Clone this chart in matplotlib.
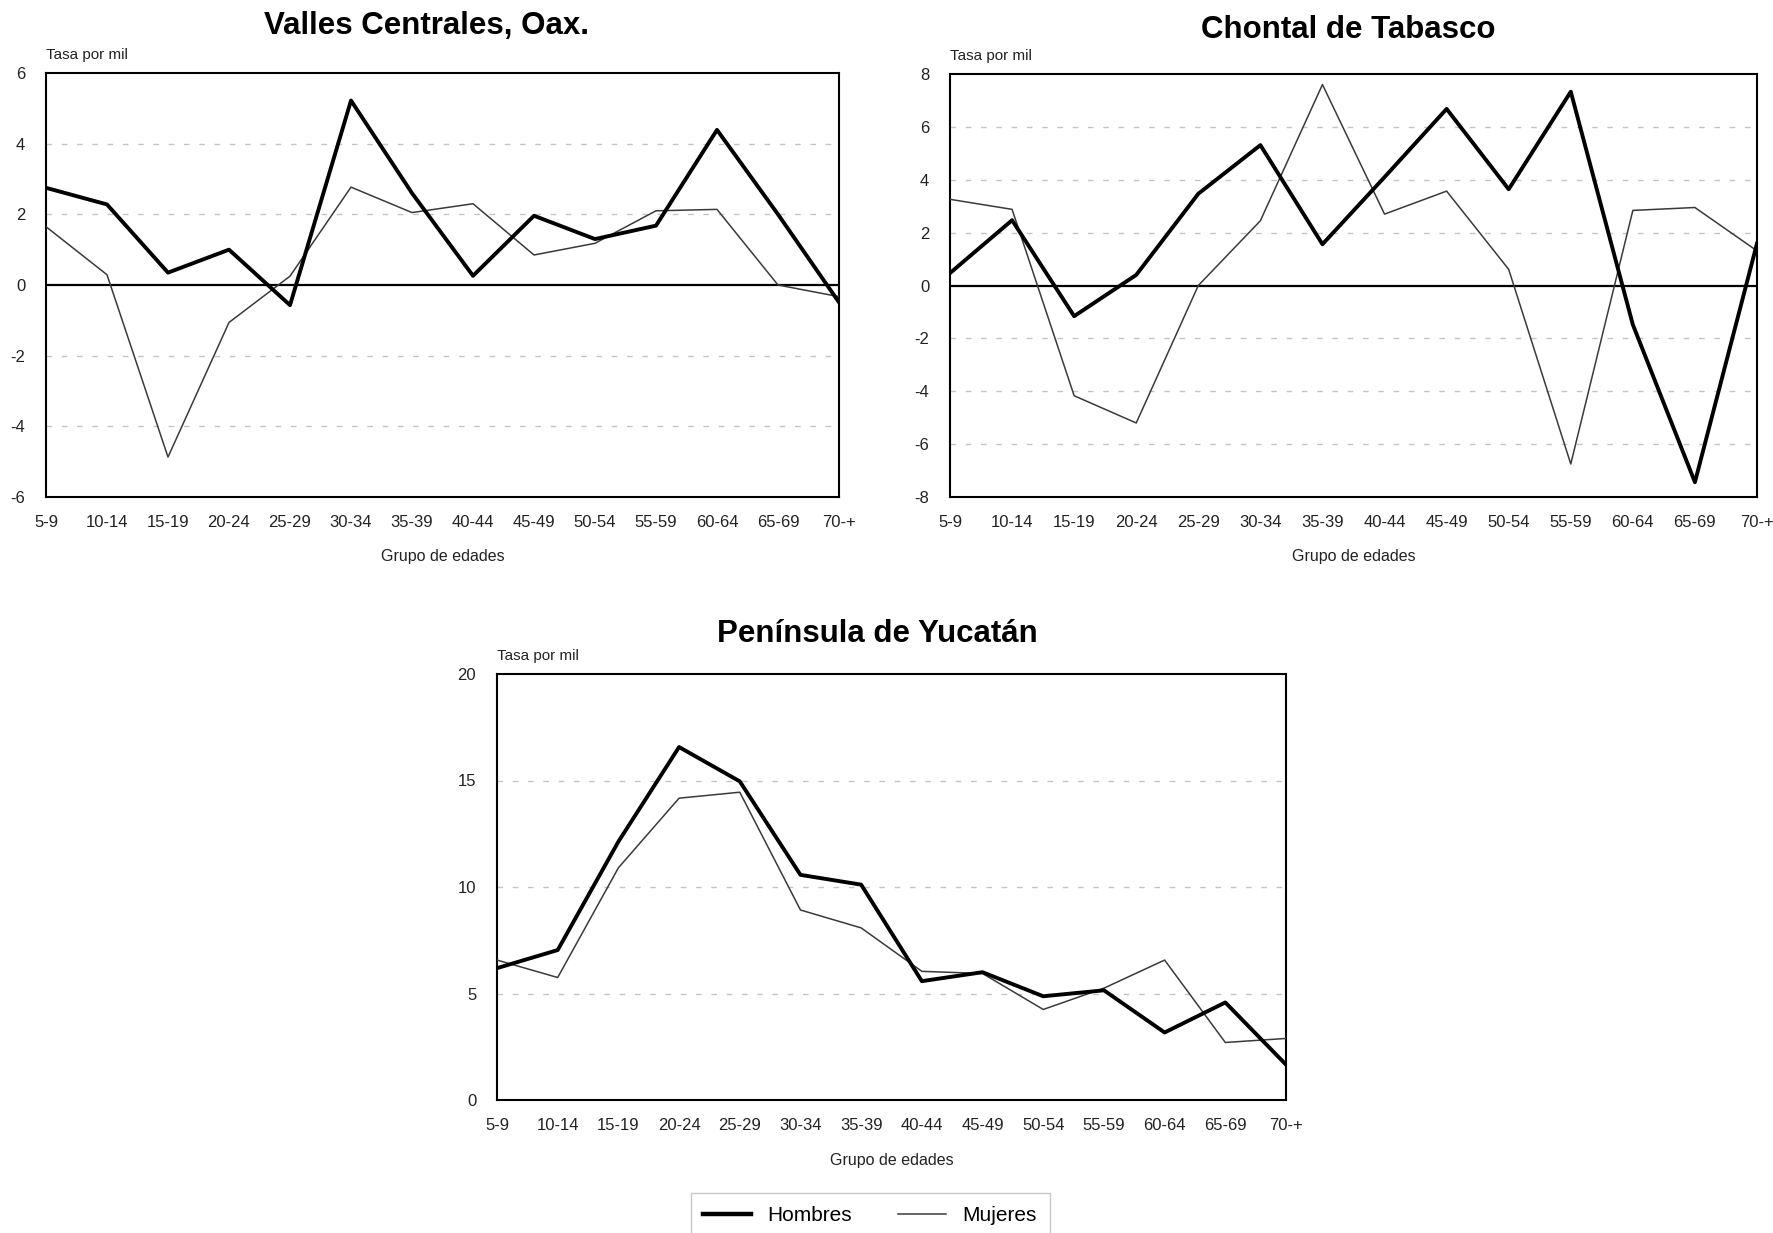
import matplotlib
matplotlib.use("Agg")
import matplotlib.pyplot as plt
from matplotlib.lines import Line2D

plt.rcParams['font.family'] = ['Liberation Sans', 'DejaVu Sans']

grupos = ["5-9", "10-14", "15-19", "20-24", "25-29", "30-34", "35-39",
          "40-44", "45-49", "50-54", "55-59", "60-64", "65-69", "70-+"]

valles_hombres = [2.75, 2.28, 0.35, 1.0, -0.57, 5.22, 2.6, 0.26, 1.96, 1.3, 1.68, 4.39, 2.0, -0.49]
valles_mujeres = [1.65, 0.29, -4.87, -1.06, 0.25, 2.77, 2.05, 2.3, 0.85, 1.18, 2.1, 2.14, 0.0, -0.33]

chontal_hombres = [0.47, 2.47, -1.16, 0.4, 3.47, 5.31, 1.56, 4.1, 6.68, 3.64, 7.33, -1.48, -7.44, 1.59]
chontal_mujeres = [3.26, 2.88, -4.17, -5.2, 0.0, 2.45, 7.6, 2.7, 3.57, 0.61, -6.75, 2.84, 2.95, 1.31]

yucatan_hombres = [6.19, 7.04, 12.13, 16.57, 14.96, 10.57, 10.11, 5.58, 6.0, 4.87, 5.15, 3.17, 4.58, 1.66]
yucatan_mujeres = [6.57, 5.75, 10.9, 14.17, 14.45, 8.92, 8.08, 6.04, 5.94, 4.25, 5.25, 6.57, 2.7, 2.89]

titulos = ["Valles Centrales, Oax.", "Chontal de Tabasco", "Península de Yucatán"]
y_ticks = [[-6, -4, -2, 0, 2, 4, 6],
           [-8, -6, -4, -2, 0, 2, 4, 6, 8],
           [0, 5, 10, 15, 20]]

W, H = 1773, 1233
fig = plt.figure(figsize=(W / 100, H / 100), dpi=100)

def rect(l, t, r, b):
    return [l / W, 1 - b / H, (r - l) / W, (b - t) / H]

axes_rects = [rect(46, 73, 839, 497), rect(950, 74, 1757, 497), rect(497, 674, 1286, 1100)]
title_pads = [28, 26, 23]
title_x = [0.48, 0.493, 0.482]
series = [(valles_hombres, valles_mujeres), (chontal_hombres, chontal_mujeres),
          (yucatan_hombres, yucatan_mujeres)]

tick_font = ['Liberation Sans Narrow', 'Liberation Sans', 'DejaVu Sans']

for i in range(3):
    ax = fig.add_axes(axes_rects[i])
    hom, muj = series[i]
    x = list(range(len(grupos)))
    ticks = y_ticks[i]
    for t in ticks[1:-1]:
        if t == 0:
            ax.axhline(0, color='black', lw=1.6, zorder=2)
        else:
            ax.axhline(t, color='#c4c4c4', lw=1.0, ls=(0, (4, 7)), zorder=1)
    ax.plot(x, muj, color='#3a3a3a', lw=1.1, zorder=3)
    ax.plot(x, hom, color='black', lw=2.8, zorder=4)
    ax.set_xlim(0, len(grupos) - 1)
    ax.set_ylim(ticks[0], ticks[-1])
    ax.set_yticks(ticks)
    ax.set_yticklabels([str(t) for t in ticks], family=tick_font, fontsize=12, color='#222222')
    ax.set_xticks(x)
    ax.set_xticklabels(grupos, family=tick_font, fontsize=12, color='#222222')
    ax.tick_params(length=0, pad=13)
    ax.tick_params(axis='y', pad=15)
    for s in ax.spines.values():
        s.set_linewidth(1.5)
        s.set_color('black')
    ax.set_xlabel("Grupo de edades", family=tick_font, fontsize=11.5, color='#222222', labelpad=14)
    ax.text(0.0, 1.025, "Tasa por mil", transform=ax.transAxes, ha='left', va='bottom',
            family=tick_font, fontsize=11, color='#222222')
    ax.set_title(titulos[i], fontsize=22.5, fontweight='bold', pad=title_pads[i], x=title_x[i])

handles = [Line2D([], [], color='black', lw=3.2), Line2D([], [], color='#3a3a3a', lw=1.1)]
leg = fig.legend(handles, ["Hombres", "Mujeres"], loc='lower center',
                 bbox_to_anchor=(870 / W, -0.012), ncol=2, fontsize=15,
                 frameon=True, fancybox=False, edgecolor='#bbbbbb',
                 handlelength=2.3, columnspacing=2.2, borderpad=0.6)
leg.get_frame().set_linewidth(1.0)

fig.savefig("out.png", dpi=100)
